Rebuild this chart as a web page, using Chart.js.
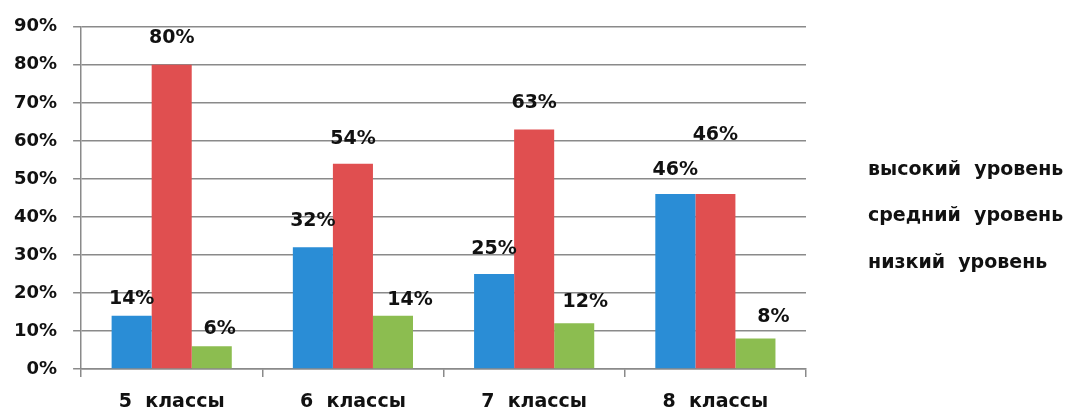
<!DOCTYPE html>
<html>
<head>
<meta charset="utf-8">
<script src="https://cdn.jsdelivr.net/npm/chart.js@4"></script>
<style>
  body { margin: 0; background: #fff; }
  #wrap { width: 1070px; height: 412px; }
</style>
</head>
<body>
<div id="wrap"><canvas id="myChart" width="1070" height="412"></canvas></div>
<script>
const classes = ['5  классы', '6  классы', '7  классы', '8  классы'];
const high = [14, 32, 25, 46];
const middle = [80, 54, 63, 46];
const low = [6, 14, 12, 8];
const levelNames = ['высокий  уровень', 'средний  уровень', 'низкий  уровень'];

// how far each value label sits above / right of its bar (as in the picture)
const labelLift = [[17, 26, 25, 24], [27, 25, 26, 59], [17, 16, 21, 22]];
const labelShift = [[0, 0, 0, 0], [0, 0, 0, 0], [8, 17, 11, 18]];

const FONT = 'DejaVu Sans';
const TEXT = '#111';

const valueLabels = {
    id: 'valueLabels',
    afterDatasetsDraw(chart) {
        const ctx = chart.ctx;
        ctx.save();
        ctx.font = 'bold 19px "' + FONT + '"';
        ctx.fillStyle = TEXT;
        ctx.textAlign = 'center';
        ctx.textBaseline = 'middle';
        chart.data.datasets.forEach(function(ds, i) {
            chart.getDatasetMeta(i).data.forEach(function(bar, j) {
                ctx.fillText(ds.data[j] + '%', bar.x + labelShift[i][j], bar.y - labelLift[i][j]);
            });
        });
        ctx.restore();
    }
};

// legend in the picture is text only, no colour boxes
const textLegend = {
    id: 'textLegend',
    afterDraw(chart) {
        const ctx = chart.ctx;
        ctx.save();
        ctx.font = 'bold 19px "' + FONT + '"';
        ctx.fillStyle = TEXT;
        ctx.textAlign = 'left';
        ctx.textBaseline = 'middle';
        chart.data.datasets.forEach(function(ds, i) {
            ctx.fillText(ds.label, chart.chartArea.right + 62, 170 + i * 46.5);
        });
        ctx.restore();
    }
};

var ctx = document.getElementById('myChart').getContext('2d');
var myChart = new Chart(ctx, {
    type: 'bar',
    data: {
        labels: classes,
        datasets: [{
            label: levelNames[0],
            data: high,
            backgroundColor: '#2a8dd6'
        }, {
            label: levelNames[1],
            data: middle,
            backgroundColor: '#e04f50'
        }, {
            label: levelNames[2],
            data: low,
            backgroundColor: '#8cbd50'
        }]
    },
    options: {
        responsive: false,
        animation: false,
        layout: {
            padding: { left: -2, right: 264, top: 25, bottom: -16 }
        },
        datasets: {
            bar: { categoryPercentage: 0.663, barPercentage: 1.0 }
        },
        plugins: {
            legend: { display: false },
            tooltip: { enabled: false }
        },
        scales: {
            x: {
                grid: {
                    offset: true,
                    drawOnChartArea: false,
                    drawTicks: true,
                    tickLength: 8,
                    color: '#8a8a8a',
                    lineWidth: 1.5
                },
                border: { color: '#8a8a8a', width: 1.5 },
                ticks: {
                    color: TEXT,
                    padding: 16,
                    font: { family: FONT, size: 19, weight: 'bold', lineHeight: 1 }
                }
            },
            y: {
                min: 0,
                max: 90,
                grid: {
                    color: '#8a8a8a',
                    lineWidth: 1.5,
                    tickLength: 8
                },
                border: { color: '#8a8a8a', width: 1.5 },
                ticks: {
                    stepSize: 10,
                    padding: 16,
                    color: TEXT,
                    font: { family: FONT, size: 18, weight: 'bold' },
                    callback: function(v) { return v + '%'; }
                }
            }
        }
    },
    plugins: [valueLabels, textLegend]
});
</script>
</body>
</html>
